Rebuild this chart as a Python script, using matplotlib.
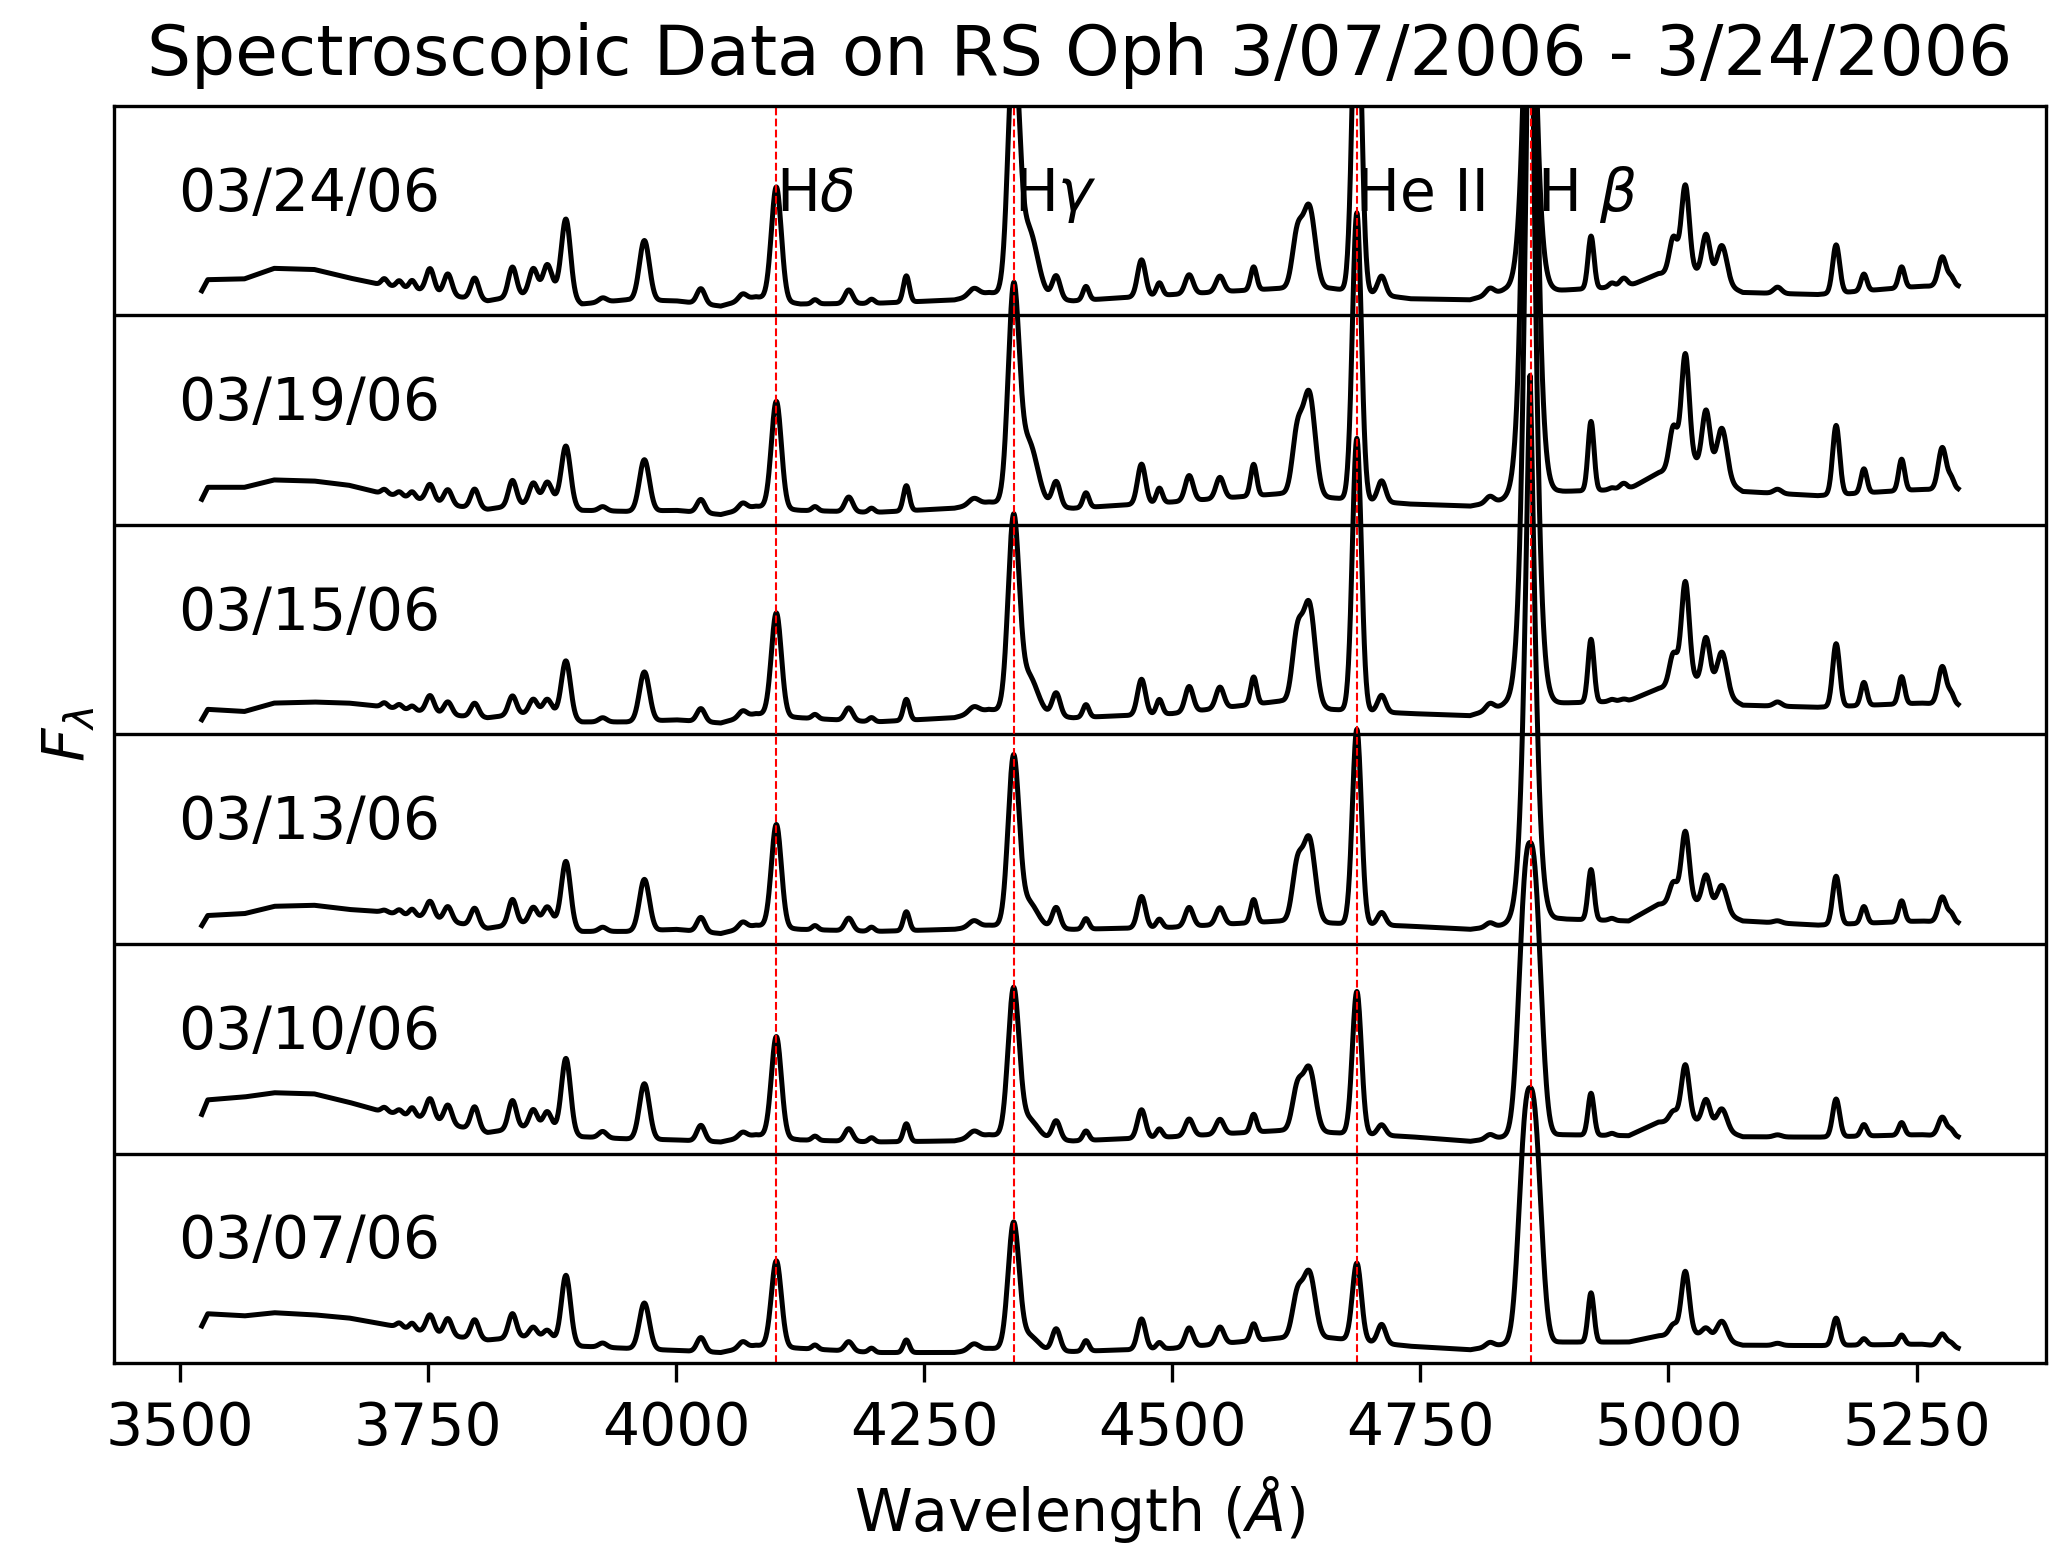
import numpy as np
import matplotlib.pyplot as plt

dates = ["03/07/06", "03/10/06", "03/13/06", "03/15/06", "03/19/06", "03/24/06"]

# continuum under the lines (panel units above each panel floor)
cont_wl = [3521, 3528, 3565, 3595, 3635, 3670, 3700, 3745, 3780, 3810, 3845, 3875,
           3905, 3950, 4000, 4045, 4080, 4125, 4200, 4280, 4315, 4400, 4500, 4610,
           4660, 4740, 4800, 4835, 4890, 4960, 4990, 5027, 5075, 5150, 5255, 5294]
cont_0307 = [0.167, 0.235, 0.225, 0.24, 0.23, 0.215, 0.19, 0.15, 0.125, 0.11, 0.125, 0.115,
             0.08, 0.07, 0.06, 0.05, 0.085, 0.07, 0.05, 0.05, 0.07, 0.055, 0.07, 0.12,
             0.12, 0.08, 0.063, 0.09, 0.10, 0.10, 0.13, 0.14, 0.085, 0.083, 0.09, 0.069]
cont_0310 = [0.175, 0.256, 0.27, 0.29, 0.285, 0.245, 0.205, 0.17, 0.13, 0.10, 0.125, 0.125,
             0.08, 0.07, 0.065, 0.055, 0.09, 0.065, 0.055, 0.06, 0.09, 0.06, 0.08, 0.11,
             0.10, 0.08, 0.058, 0.08, 0.09, 0.085, 0.15, 0.155, 0.08, 0.078, 0.09, 0.078]
cont_0313 = [0.08, 0.136, 0.145, 0.18, 0.185, 0.165, 0.155, 0.13, 0.10, 0.075, 0.10, 0.115,
             0.06, 0.06, 0.07, 0.05, 0.09, 0.07, 0.06, 0.07, 0.09, 0.07, 0.08, 0.11,
             0.10, 0.085, 0.07, 0.09, 0.12, 0.11, 0.19, 0.20, 0.11, 0.09, 0.11, 0.10]
cont_0315 = [0.062, 0.12, 0.11, 0.15, 0.155, 0.15, 0.135, 0.11, 0.09, 0.08, 0.10, 0.11,
             0.06, 0.06, 0.07, 0.055, 0.10, 0.08, 0.06, 0.08, 0.12, 0.08, 0.10, 0.16,
             0.12, 0.10, 0.09, 0.14, 0.15, 0.16, 0.22, 0.26, 0.14, 0.13, 0.15, 0.14]
cont_0319 = [0.113, 0.18, 0.18, 0.215, 0.21, 0.19, 0.155, 0.12, 0.09, 0.075, 0.10, 0.13,
             0.07, 0.065, 0.07, 0.05, 0.09, 0.07, 0.06, 0.08, 0.11, 0.08, 0.11, 0.15,
             0.13, 0.10, 0.09, 0.12, 0.16, 0.17, 0.25, 0.30, 0.16, 0.14, 0.17, 0.17]
cont_0324 = [0.109, 0.171, 0.175, 0.225, 0.22, 0.18, 0.15, 0.12, 0.09, 0.07, 0.10, 0.14,
             0.055, 0.075, 0.07, 0.045, 0.09, 0.055, 0.058, 0.074, 0.11, 0.07, 0.10, 0.13,
             0.13, 0.08, 0.075, 0.12, 0.12, 0.14, 0.20, 0.21, 0.11, 0.10, 0.14, 0.14]

# emission lines: centre (A), width (A), height above continuum per night
line_wl = [3706, 3721, 3734, 3752, 3770, 3797, 3835, 3856, 3870, 3889, 3926, 3968,
           4025, 4067, 4101, 4140, 4174, 4197, 4232, 4300, 4340, 4355, 4383, 4413,
           4469, 4487, 4517, 4548, 4582, 4626, 4638, 4686, 4711, 4820, 4922, 4943,
           4955, 5005, 5017, 5038, 5054, 5110, 5169, 5197, 5235, 5276, 5285]
line_sig = [3, 3, 3, 4, 4, 4, 4, 4, 4, 4.5, 4, 5,
            4, 4, 5, 3, 4, 3, 3, 5, 5.5, 9, 4, 3,
            4, 3, 4, 4, 3, 5, 6, 4.5, 4, 4, 3, 3,
            4, 4, 4, 4, 5, 4, 3.5, 3, 3, 4, 3]
amp_0307 = [0.00, 0.02, 0.03, 0.085, 0.08, 0.09, 0.115, 0.05, 0.04, 0.32, 0.02, 0.22,
            0.067, 0.03, 0.41, 0.02, 0.045, 0.02, 0.06, 0.03, 0.59, 0.07, 0.105, 0.05,
            0.145, 0.03, 0.09, 0.08, 0.08, 0.20, 0.31, 0.37, 0.09, 0.02, 0.235, 0.0,
            0.0, 0.05, 0.30, 0.04, 0.09, 0.01, 0.13, 0.03, 0.045, 0.06, 0.02]
amp_0310 = [0.02, 0.02, 0.04, 0.10, 0.09, 0.11, 0.135, 0.085, 0.075, 0.35, 0.03, 0.265,
            0.075, 0.025, 0.48, 0.02, 0.06, 0.02, 0.085, 0.03, 0.69, 0.09, 0.09, 0.045,
            0.135, 0.04, 0.08, 0.07, 0.085, 0.20, 0.30, 0.68, 0.05, 0.02, 0.20, 0.01,
            0.0, 0.05, 0.27, 0.12, 0.10, 0.01, 0.18, 0.055, 0.06, 0.09, 0.03]
amp_0313 = [0.01, 0.02, 0.03, 0.08, 0.07, 0.085, 0.12, 0.07, 0.065, 0.305, 0.02, 0.245,
            0.068, 0.03, 0.49, 0.02, 0.06, 0.02, 0.09, 0.03, 0.79, 0.12, 0.10, 0.05,
            0.15, 0.04, 0.09, 0.08, 0.11, 0.26, 0.395, 0.93, 0.06, 0.02, 0.24, 0.01,
            0.0, 0.10, 0.34, 0.15, 0.13, 0.01, 0.23, 0.08, 0.10, 0.12, 0.04]
amp_0315 = [0.02, 0.02, 0.02, 0.08, 0.06, 0.065, 0.09, 0.065, 0.06, 0.265, 0.02, 0.235,
            0.062, 0.03, 0.49, 0.02, 0.06, 0.02, 0.10, 0.03, 0.90, 0.18, 0.11, 0.06,
            0.17, 0.07, 0.12, 0.10, 0.13, 0.32, 0.48, 1.30, 0.08, 0.03, 0.30, 0.01,
            0.01, 0.15, 0.48, 0.23, 0.20, 0.02, 0.30, 0.11, 0.13, 0.18, 0.05]
amp_0319 = [0.02, 0.02, 0.03, 0.08, 0.07, 0.09, 0.12, 0.09, 0.08, 0.275, 0.02, 0.245,
            0.063, 0.03, 0.51, 0.02, 0.07, 0.02, 0.12, 0.03, 0.98, 0.30, 0.12, 0.07,
            0.19, 0.07, 0.12, 0.10, 0.15, 0.29, 0.485, 1.37, 0.10, 0.03, 0.33, 0.01,
            0.03, 0.20, 0.53, 0.28, 0.24, 0.02, 0.33, 0.115, 0.15, 0.20, 0.05]
amp_0324 = [0.03, 0.03, 0.04, 0.11, 0.10, 0.10, 0.14, 0.11, 0.11, 0.36, 0.02, 0.285,
            0.072, 0.03, 0.54, 0.02, 0.065, 0.02, 0.125, 0.035, 1.15, 0.32, 0.11, 0.065,
            0.175, 0.06, 0.09, 0.075, 0.11, 0.253, 0.385, 1.60, 0.09, 0.03, 0.25, 0.02,
            0.04, 0.17, 0.415, 0.20, 0.18, 0.03, 0.23, 0.08, 0.10, 0.14, 0.04]

# H beta has its own profile: flat topped early on, peaked later
hbeta_wl = 4860.5
hbeta_amp = [1.22, 1.40, 2.61, 3.9, 4.5, 2.4]
hbeta_sig = [10.0, 10.0, 4.5, 4.5, 4.5, 4.5]
hbeta_pow = [2.5, 2.5, 1.4, 1.4, 1.4, 1.4]

conts = [cont_0307, cont_0310, cont_0313, cont_0315, cont_0319, cont_0324]
amps = [amp_0307, amp_0310, amp_0313, amp_0315, amp_0319, amp_0324]

marks = [4101, 4340, 4686, 4862]
mark_labels = [r"H$\delta$", r"H$\gamma$", "He II", r"H $\beta$"]
mark_text_x = [4101, 4340, 4685, 4868]

wl = np.arange(3522, 5292.01, 0.5)


def spectrum(i):
    flux = np.interp(wl, cont_wl, conts[i])
    for c, s, a in zip(line_wl, line_sig, amps[i]):
        flux += a * np.exp(-0.5 * ((wl - c) / s) ** 2)
    d = np.abs(wl - hbeta_wl) / hbeta_sig[i]
    flux += hbeta_amp[i] * np.exp(-0.5 * d ** hbeta_pow[i])
    return flux


fig = plt.figure(figsize=(2049 / 300, 1549 / 300), dpi=300)
ax = fig.add_axes([114 / 2049, 1 - 1363 / 1549, 1932 / 2049, 1257 / 1549])

for i in range(len(dates)):
    ax.plot(wl, i + spectrum(i), color="black", lw=1.2)
    ax.text(3498, i + 0.5, dates[i], fontsize=14)

for y in range(1, len(dates)):
    ax.axhline(y, color="black", lw=0.8)

for m in marks:
    ax.axvline(m, color="red", lw=0.5, ls="--")

for x, lab in zip(mark_text_x, mark_labels):
    ax.text(x, 5.5, lab, fontsize=14)

ax.set_ylim(0, len(dates))
ax.set_yticks([])
ax.set_xticks([3500, 3750, 4000, 4250, 4500, 4750, 5000, 5250])
ax.tick_params(axis="x", labelsize=14, length=4.5, pad=4.5)
ax.set_xlabel(r"Wavelength ($\AA$)", fontsize=14, labelpad=4)
ax.set_ylabel(r"$F_\lambda$", fontsize=14)
ax.set_title("Spectroscopic Data on RS Oph 3/07/2006 - 3/24/2006", fontsize=16.7, pad=7.5)

fig.savefig("out.png", dpi=300)
